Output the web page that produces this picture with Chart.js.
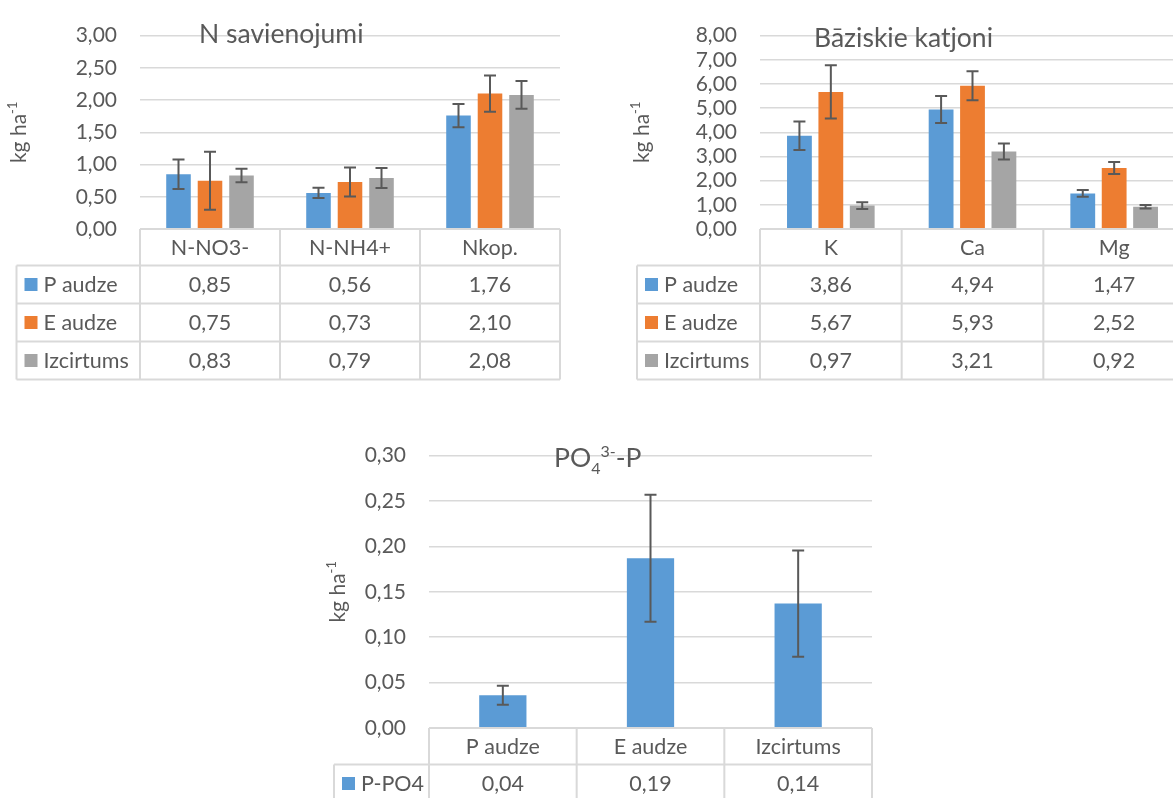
<!DOCTYPE html>
<html lang="lv">
<head>
<meta charset="UTF-8">
<title>N savienojumi, Bāziskie katjoni, PO4-P</title>
<script src="https://cdn.jsdelivr.net/npm/chart.js@4"></script>
<style>
  body { margin: 0; background: #fff; overflow: hidden; }
  #wrap { position: relative; width: 1173px; height: 798px; overflow: hidden; }
  canvas { position: absolute; }
</style>
</head>
<body>
<div id="wrap">
  <canvas id="nChart" width="590" height="390" style="left:0;top:0"></canvas>
  <canvas id="bChart" width="600" height="390" style="left:600px;top:0"></canvas>
  <canvas id="pChart" width="600" height="378" style="left:300px;top:420px"></canvas>
</div>
<script>
// --- data ---
const seriesNames = ['P audze', 'E audze', 'Izcirtums'];
const seriesColors = ['#5b9bd5', '#ed7d31', '#a5a5a5'];

const nCats = ['N-NO3-', 'N-NH4+', 'Nkop.'];
const nP = [0.85, 0.56, 1.76];
const nE = [0.75, 0.73, 2.10];
const nI = [0.83, 0.79, 2.08];
const nPerr = [0.23, 0.08, 0.18];
const nEerr = [0.45, 0.225, 0.28];
const nIerr = [0.105, 0.155, 0.215];

const bCats = ['K', 'Ca', 'Mg'];
const bP = [3.86, 4.94, 1.47];
const bE = [5.67, 5.93, 2.52];
const bI = [0.97, 3.21, 0.92];
const bPerr = [0.59, 0.56, 0.14];
const bEerr = [1.1, 0.6, 0.25];
const bIerr = [0.14, 0.33, 0.07];

const pCats = ['P audze', 'E audze', 'Izcirtums'];
const pVals = [0.036, 0.187, 0.137];
const pErr = [0.0105, 0.07, 0.0585];

const FONT = 'Lato';
const TXT = '#595959';
const LINE = '#d9d9d9';

function fmt(v) { return Number(v).toFixed(2).replace('.', ','); }

// draws text pieces [text, size, dy] one after another
function drawRich(ctx, parts, x, y) {
  let cx = x;
  parts.forEach(p => {
    ctx.font = p[1] + 'px ' + FONT;
    ctx.fillText(p[0], cx, y + p[2]);
    cx += ctx.measureText(p[0]).width;
  });
  return cx - x;
}
function richWidth(ctx, parts) {
  let w = 0;
  parts.forEach(p => { ctx.font = p[1] + 'px ' + FONT; w += ctx.measureText(p[0]).width; });
  return w;
}

function buildChart(id, o) {
  const extras = {
    id: 'extras_' + id,
    afterDatasetsDraw(chart) {
      const ctx = chart.ctx, y = chart.scales.y;
      ctx.save();
      ctx.strokeStyle = '#595959';
      ctx.lineWidth = 2;
      chart.data.datasets.forEach((ds, di) => {
        chart.getDatasetMeta(di).data.forEach((bar, i) => {
          const v = ds.data[i], e = o.errors[di][i];
          const y1 = y.getPixelForValue(v + e), y2 = y.getPixelForValue(v - e);
          ctx.beginPath();
          ctx.moveTo(bar.x, y1); ctx.lineTo(bar.x, y2);
          ctx.moveTo(bar.x - 6, y1); ctx.lineTo(bar.x + 6, y1);
          ctx.moveTo(bar.x - 6, y2); ctx.lineTo(bar.x + 6, y2);
          ctx.stroke();
        });
      });
      ctx.restore();
    },
    afterDraw(chart) {
      const ctx = chart.ctx, area = chart.chartArea, x = chart.scales.x;
      const n = o.cats.length;
      const colW = (area.right - area.left) / n;
      const top = area.bottom, headH = 36.5, rowH = 38;
      const rows = chart.data.datasets.length;
      const bottom = top + headH + rows * rowH;
      ctx.save();
      ctx.strokeStyle = LINE;
      ctx.lineWidth = 2;
      ctx.beginPath();
      // header row
      ctx.moveTo(area.left, top); ctx.lineTo(area.right, top);
      for (let r = 0; r <= rows; r++) {
        const yy = top + headH + r * rowH;
        ctx.moveTo(o.legendLeft, yy); ctx.lineTo(area.right, yy);
      }
      ctx.moveTo(o.legendLeft, top + headH); ctx.lineTo(o.legendLeft, bottom);
      for (let c = 0; c <= n; c++) {
        const xx = x.getPixelForValue(Math.min(c, n - 1)) + (c === n ? colW / 2 : -colW / 2);
        ctx.moveTo(xx, top); ctx.lineTo(xx, bottom);
      }
      ctx.stroke();

      ctx.fillStyle = TXT;
      ctx.font = '21.5px ' + FONT;
      ctx.textBaseline = 'middle';
      ctx.textAlign = 'center';
      o.cats.forEach((c, i) => ctx.fillText(c, x.getPixelForValue(i), top + headH / 2 + 1));
      chart.data.datasets.forEach((ds, di) => {
        const cy = top + headH + di * rowH + rowH / 2;
        ds.data.forEach((v, i) => {
          ctx.textAlign = 'center';
          ctx.fillStyle = TXT;
          ctx.fillText(fmt(v), x.getPixelForValue(i), cy + 1);
        });
        ctx.fillStyle = ds.backgroundColor;
        ctx.fillRect(o.legendLeft + 8, cy - 6.5, 13, 13);
        ctx.fillStyle = TXT;
        ctx.textAlign = 'left';
        ctx.fillText(ds.label, o.legendLeft + 27, cy + 1);
      });

      // chart title
      ctx.textAlign = 'left';
      ctx.textBaseline = 'alphabetic';
      drawRich(ctx, o.title, o.titleX, o.titleY);

      // y axis title, rotated
      const yParts = [['kg ha', 21, 0], ['-1', 13, -9]];
      const w = richWidth(ctx, yParts);
      ctx.translate(o.yTitleX, (area.top + area.bottom) / 2);
      ctx.rotate(-Math.PI / 2);
      drawRich(ctx, yParts, -w / 2, 0);
      ctx.restore();
    }
  };

  return new Chart(document.getElementById(id), {
    type: 'bar',
    data: {
      labels: o.cats,
      datasets: o.series.map((s, i) => ({
        label: o.names[i],
        data: s,
        backgroundColor: o.colors[i]
      }))
    },
    options: {
      responsive: false,
      animation: false,
      devicePixelRatio: 1,
      layout: { padding: o.pad },
      datasets: { bar: { categoryPercentage: o.catPct, barPercentage: o.barPct } },
      plugins: { legend: { display: false }, tooltip: { enabled: false } },
      scales: {
        x: { display: false },
        y: {
          min: 0, max: o.max,
          ticks: { stepSize: o.step, autoSkip: false, padding: 23, color: TXT, font: { family: FONT, size: 21 }, callback: v => fmt(v) },
          grid: { color: LINE, lineWidth: 1.5, drawTicks: false },
          border: { display: false },
          afterFit: s => { s.width = o.yWidth; }
        }
      }
    },
    plugins: [extras]
  });
}

buildChart('nChart', {
  cats: nCats, names: seriesNames, colors: seriesColors,
  series: [nP, nE, nI], errors: [nPerr, nEerr, nIerr],
  max: 3, step: 0.5,
  pad: { top: 25, right: 30, bottom: 161, left: 0 }, yWidth: 140,
  catPct: 0.675, barPct: 0.78, legendLeft: 16.5,
  title: [['N savienojumi', 26.5, 0]], titleX: 199, titleY: 43, yTitleX: 26
});

buildChart('bChart', {
  cats: bCats, names: seriesNames, colors: seriesColors,
  series: [bP, bE, bI], errors: [bPerr, bEerr, bIerr],
  max: 8, step: 1,
  pad: { top: 24, right: 15, bottom: 161, left: 0 }, yWidth: 160,
  catPct: 0.665, barPct: 0.79, legendLeft: 37,
  title: [['Bāziskie katjoni', 26.5, 0]], titleX: 214, titleY: 47, yTitleX: 49
});

buildChart('pChart', {
  cats: pCats, names: ['P-PO4'], colors: ['#5b9bd5'],
  series: [pVals], errors: [pErr],
  max: 0.3, step: 0.05,
  pad: { top: 27, right: 28, bottom: 70, left: 0 }, yWidth: 129,
  catPct: 0.4, barPct: 0.8, legendLeft: 34,
  title: [['PO', 26.5, 0], ['4', 16, 7], ['3-', 16, -10], ['-P', 26.5, 0]], titleX: 254, titleY: 47, yTitleX: 45
});
</script>
</body>
</html>
